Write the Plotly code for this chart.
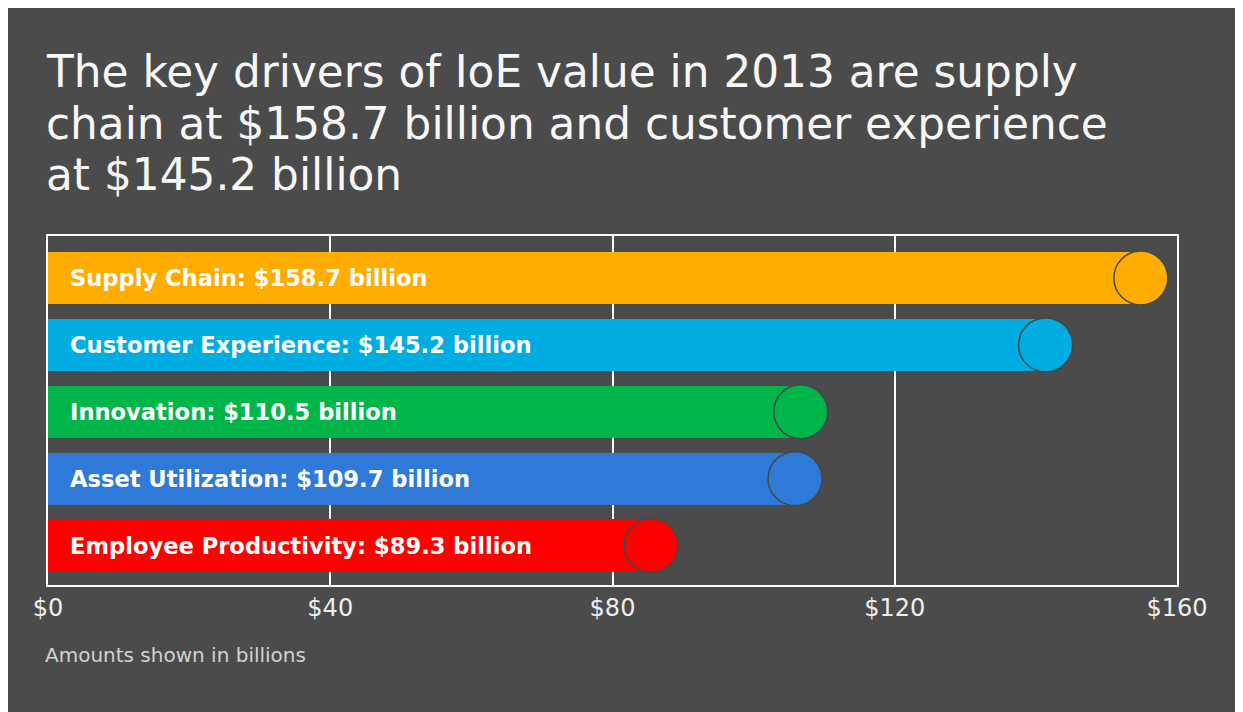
import plotly.graph_objects as go

categories = ["Supply Chain", "Customer Experience", "Innovation", "Asset Utilization", "Employee Productivity"]
values = [158.7, 145.2, 110.5, 109.7, 89.3]
colors = ["#FFAD00", "#00ADE2", "#00B54A", "#2F7AD8", "#FF0000"]
labels = [f"{c}: ${v} billion" for c, v in zip(categories, values)]
tick_vals = [0, 40, 80, 120, 160]
tick_text = ["$0", "$40", "$80", "$120", "$160"]
title_lines = [
    "The key drivers of IoE value in 2013 are supply",
    "chain at $158.7 billion and customer experience",
    "at $145.2 billion",
]
footnote = "Amounts shown in billions"

BG = "#4B4B4B"
W, H = 1235, 704
ML, MT = 40, 228
plot_w, plot_h = 1129, 349
MR = W - ML - plot_w
MB = H - MT - plot_h
x_max = 160
circle_d = 54
r_units = (circle_d / 2) * x_max / plot_w

fig = go.Figure()
fig.add_trace(go.Bar(
    y=categories,
    x=[v - r_units for v in values],
    orientation="h",
    marker=dict(color=colors, line=dict(width=0)),
    width=0.78,
    hoverinfo="skip",
))
fig.add_trace(go.Scatter(
    y=categories,
    x=[v - r_units for v in values],
    mode="markers",
    marker=dict(size=circle_d, color=colors, line=dict(color="#40484A", width=1.5)),
    hoverinfo="skip",
))

annotations = []
for c, lab in zip(categories, labels):
    annotations.append(dict(
        x=0, y=c, xref="x", yref="y", text=lab, showarrow=False,
        xanchor="left", yanchor="middle", xshift=20,
        font=dict(family="DejaVu Sans", size=22.6, color="white", weight="bold"),
    ))

title_centers = [63, 115, 167]
for line, yc in zip(title_lines, title_centers):
    annotations.append(dict(
        x=0, y=1 + (MT - yc) / plot_h, xref="paper", yref="paper", text=line,
        showarrow=False, xanchor="left", yanchor="middle", xshift=-4,
        font=dict(family="DejaVu Sans", size=43.8, color="#F7F7F7"),
    ))
annotations.append(dict(
    x=0, y=1 + (MT - 647) / plot_h, xref="paper", yref="paper", text=footnote,
    showarrow=False, xanchor="left", yanchor="middle", xshift=-5,
    font=dict(family="DejaVu Sans", size=20, color="#D2D2D2"),
))

fig.update_layout(
    width=W, height=H,
    margin=dict(l=ML, r=MR, t=MT, b=MB),
    paper_bgcolor=BG, plot_bgcolor=BG,
    showlegend=False,
    bargap=0,
    annotations=annotations,
    xaxis=dict(
        range=[0, x_max], tickvals=tick_vals, ticktext=tick_text,
        showgrid=True, gridcolor="white", gridwidth=2,
        showline=True, linecolor="white", linewidth=2, mirror=True,
        zeroline=False, ticks="",
        tickfont=dict(family="DejaVu Sans", size=24, color="#EEEEEE"),
        fixedrange=True,
    ),
    yaxis=dict(
        categoryorder="array", categoryarray=categories,
        range=[4.59, -0.628],
        showgrid=False, showline=True, linecolor="white", linewidth=2, mirror=True,
        showticklabels=False, ticks="", zeroline=False, fixedrange=True,
    ),
)

fig.write_html(
    "out.html",
    post_script="document.documentElement.style.overflow='hidden';document.body.style.overflow='hidden';",
)
